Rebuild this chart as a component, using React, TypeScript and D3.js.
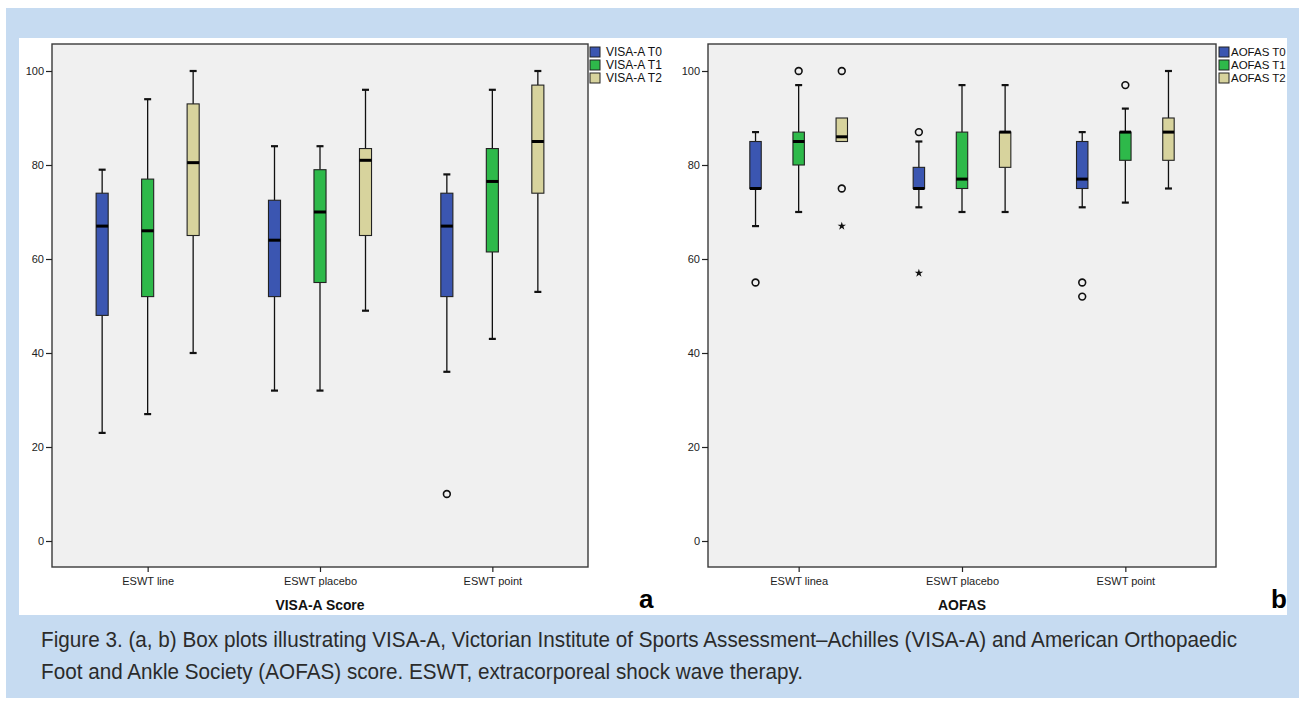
import React, { useEffect, useRef } from 'react'
import { select, scaleLinear, scalePoint, axisLeft, axisBottom, symbol, symbolStar } from 'd3'

// categories + series
const categoriesA = ['ESWT line', 'ESWT placebo', 'ESWT point']
const categoriesB = ['ESWT linea', 'ESWT placebo', 'ESWT point']
const seriesA = ['VISA-A T0', 'VISA-A T1', 'VISA-A T2']
const seriesB = ['AOFAS T0', 'AOFAS T1', 'AOFAS T2']
const yTicks = [0, 20, 40, 60, 80, 100]

// [low whisker, q1, median, q3, high whisker] for each category
const visaT0 = [[23, 48, 67, 74, 79], [32, 52, 64, 72.5, 84], [36, 52, 67, 74, 78]]
const visaT1 = [[27, 52, 66, 77, 94], [32, 55, 70, 79, 84], [43, 61.5, 76.5, 83.5, 96]]
const visaT2 = [[40, 65, 80.5, 93, 100], [49, 65, 81, 83.5, 96], [53, 74, 85, 97, 100]]
const visaOutliers = [
  { cat: 'ESWT point', series: 'VISA-A T0', value: 10, kind: 'circle' },
]

const aofasT0 = [[67, 75, 75, 85, 87], [71, 75, 75, 79.5, 85], [71, 75, 77, 85, 87]]
const aofasT1 = [[70, 80, 85, 87, 97], [70, 75, 77, 87, 97], [72, 81, 87, 87, 92]]
const aofasT2 = [[85, 85, 86, 90, 90], [70, 79.5, 87, 87, 97], [75, 81, 87, 90, 100]]
const aofasOutliers = [
  { cat: 'ESWT linea', series: 'AOFAS T0', value: 55, kind: 'circle' },
  { cat: 'ESWT linea', series: 'AOFAS T1', value: 100, kind: 'circle' },
  { cat: 'ESWT linea', series: 'AOFAS T2', value: 100, kind: 'circle' },
  { cat: 'ESWT linea', series: 'AOFAS T2', value: 75, kind: 'circle' },
  { cat: 'ESWT linea', series: 'AOFAS T2', value: 67, kind: 'star' },
  { cat: 'ESWT placebo', series: 'AOFAS T0', value: 87, kind: 'circle' },
  { cat: 'ESWT placebo', series: 'AOFAS T0', value: 57, kind: 'star' },
  { cat: 'ESWT point', series: 'AOFAS T0', value: 55, kind: 'circle' },
  { cat: 'ESWT point', series: 'AOFAS T0', value: 52, kind: 'circle' },
  { cat: 'ESWT point', series: 'AOFAS T1', value: 97, kind: 'circle' },
]

const captionLines = [
  'Figure 3.  (a, b) Box plots illustrating VISA-A, Victorian Institute of Sports Assessment\u2013Achilles (VISA-A) and American Orthopaedic',
  'Foot and Ankle Society (AOFAS) score. ESWT, extracorporeal shock wave therapy.',
]

const colors = ['#3b56b1', '#2eb94a', '#d7d39d']
const FONT = "'Liberation Sans', Arial, sans-serif"

const drawPanel = (svg, cfg) => {
  const top = 44
  const bottom = 567
  const y = scaleLinear().domain([0, 100]).range([541, 71])
  const x = scalePoint().domain(cfg.categories).range([cfg.left, cfg.right]).padding(0.555)
  const spread = x.step() * 0.264
  const off = scalePoint().domain(cfg.series).range([-spread, spread])
  const boxW = x.step() * 0.07

  const g = svg.append('g')

  g.append('rect')
    .attr('x', cfg.left).attr('y', top)
    .attr('width', cfg.right - cfg.left).attr('height', bottom - top)
    .attr('fill', '#f0f0f0').attr('stroke', '#3a3a3a').attr('stroke-width', 1.4)

  // axes
  const ay = g.append('g').attr('transform', `translate(${cfg.left},0)`)
    .call(axisLeft(y).tickValues(yTicks).tickSize(6).tickPadding(2))
  ay.select('.domain').remove()
  ay.selectAll('line').attr('stroke', '#222').attr('stroke-width', 1.2)
  ay.selectAll('text').attr('font-size', 11).attr('font-family', FONT).attr('fill', '#222')

  const ax = g.append('g').attr('transform', `translate(0,${bottom})`)
    .call(axisBottom(x).tickSize(5).tickPadding(5))
  ax.select('.domain').remove()
  ax.selectAll('line').attr('stroke', '#222').attr('stroke-width', 1.2)
  ax.selectAll('text').attr('font-size', 11).attr('font-family', FONT).attr('fill', '#222')

  // boxes
  const rows = cfg.series.flatMap((s, si) => cfg.categories.map((c, ci) => {
    const [lo, q1, med, q3, hi] = cfg.stats[si][ci]
    return { cx: x(c) + off(s), lo, q1, med, q3, hi, color: colors[si] }
  }))

  const bx = g.selectAll('g.box').data(rows).join('g').attr('class', 'box')
  bx.filter(d => d.hi > d.q3).append('line')
    .attr('x1', d => d.cx).attr('x2', d => d.cx)
    .attr('y1', d => y(d.hi)).attr('y2', d => y(d.q3))
    .attr('stroke', '#111').attr('stroke-width', 1.3)
  bx.filter(d => d.lo < d.q1).append('line')
    .attr('x1', d => d.cx).attr('x2', d => d.cx)
    .attr('y1', d => y(d.q1)).attr('y2', d => y(d.lo))
    .attr('stroke', '#111').attr('stroke-width', 1.3)
  bx.filter(d => d.hi > d.q3).append('line')
    .attr('x1', d => d.cx - 3.5).attr('x2', d => d.cx + 3.5)
    .attr('y1', d => y(d.hi)).attr('y2', d => y(d.hi))
    .attr('stroke', '#111').attr('stroke-width', 2.2)
  bx.filter(d => d.lo < d.q1).append('line')
    .attr('x1', d => d.cx - 3.5).attr('x2', d => d.cx + 3.5)
    .attr('y1', d => y(d.lo)).attr('y2', d => y(d.lo))
    .attr('stroke', '#111').attr('stroke-width', 2.2)
  bx.append('rect')
    .attr('x', d => d.cx - boxW / 2).attr('width', boxW)
    .attr('y', d => y(d.q3)).attr('height', d => y(d.q1) - y(d.q3))
    .attr('fill', d => d.color).attr('stroke', '#222').attr('stroke-width', 1.1)
  bx.append('line')
    .attr('x1', d => d.cx - boxW / 2).attr('x2', d => d.cx + boxW / 2)
    .attr('y1', d => y(d.med)).attr('y2', d => y(d.med))
    .attr('stroke', '#000').attr('stroke-width', 3)

  // outliers
  const pts = cfg.outliers.map(o => ({ ...o, px: x(o.cat) + off(o.series), py: y(o.value) }))
  g.selectAll('circle.out').data(pts.filter(p => p.kind === 'circle')).join('circle')
    .attr('class', 'out')
    .attr('cx', d => d.px).attr('cy', d => d.py).attr('r', 3.4)
    .attr('fill', 'none').attr('stroke', '#111').attr('stroke-width', 1.6)
  g.selectAll('path.star').data(pts.filter(p => p.kind === 'star')).join('path')
    .attr('class', 'star')
    .attr('transform', d => `translate(${d.px},${d.py})`)
    .attr('d', symbol(symbolStar, 22)())
    .attr('fill', '#111')

  // legend
  const lg = g.selectAll('g.leg').data(cfg.series).join('g').attr('class', 'leg')
    .attr('transform', (d, i) => `translate(${cfg.legendX},${47 + i * 13})`)
  lg.append('rect').attr('width', 10).attr('height', 10)
    .attr('fill', (d, i) => colors[i]).attr('stroke', '#222').attr('stroke-width', 1)
  lg.append('text').attr('x', cfg.legendText).attr('y', 5).attr('dy', '0.35em')
    .attr('font-size', cfg.legendFont).attr('font-family', FONT).attr('fill', '#111')
    .text(d => d)

  // axis title + panel letter
  g.append('text').attr('x', (cfg.left + cfg.right) / 2).attr('y', 610)
    .attr('text-anchor', 'middle').attr('font-size', 15).attr('font-weight', 'bold')
    .attr('font-family', FONT).attr('fill', '#111')
    .attr('textLength', cfg.titleLen).attr('lengthAdjust', 'spacingAndGlyphs')
    .text(cfg.title)
  g.append('text').attr('x', cfg.letterX).attr('y', 608)
    .attr('font-size', 26).attr('font-weight', 'bold').attr('font-family', FONT).attr('fill', '#000')
    .text(cfg.letter)
}

const App = () => {
  const ref = useRef(null)

  useEffect(() => {
    const svg = select(ref.current)
    svg.selectAll('*').remove()

    svg.append('rect').attr('x', 6).attr('y', 8).attr('width', 1293).attr('height', 690).attr('fill', '#c6dbf1')
    svg.append('rect').attr('x', 19).attr('y', 38).attr('width', 1268).attr('height', 577).attr('fill', '#ffffff')

    drawPanel(svg, {
      categories: categoriesA, series: seriesA, stats: [visaT0, visaT1, visaT2], outliers: visaOutliers,
      left: 52, right: 588, legendX: 590, legendText: 16, legendFont: 12, title: 'VISA-A Score', titleLen: 89,
      letter: 'a', letterX: 639,
    })
    drawPanel(svg, {
      categories: categoriesB, series: seriesB, stats: [aofasT0, aofasT1, aofasT2], outliers: aofasOutliers,
      left: 708, right: 1216, legendX: 1219, legendText: 12, legendFont: 11.5, title: 'AOFAS', titleLen: 48,
      letter: 'b', letterX: 1271,
    })

    // caption: condensed look by stretching vertically
    const lineLens = [1196, 762]
    svg.append('g').selectAll('text').data(captionLines).join('text')
      .attr('transform', (d, i) => `translate(41,${647 + i * 32}) scale(1,1.15)`)
      .attr('font-family', FONT).attr('font-size', 19).attr('fill', '#2b2b2b')
      .attr('textLength', (d, i) => lineLens[i]).attr('lengthAdjust', 'spacingAndGlyphs')
      .text(d => d)
  }, [])

  return (
    <svg ref={ref} width={1305} height={705}
      style={{ position: 'absolute', left: 0, top: 0, display: 'block' }} />
  )
}

export default App
